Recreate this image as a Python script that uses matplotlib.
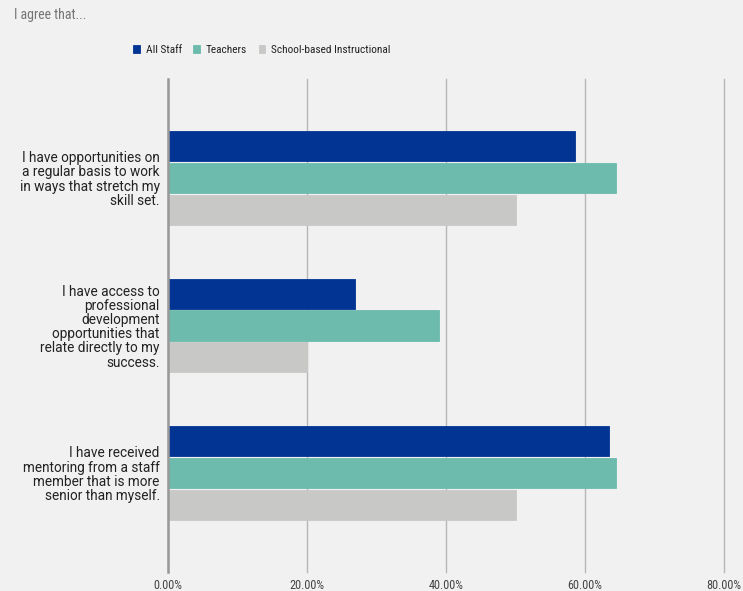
import matplotlib.pyplot as plt
import numpy as np

# data
questions = [
    "I have opportunities on\na regular basis to work\nin ways that stretch my\nskill set.",
    "I have access to\nprofessional\ndevelopment\nopportunities that\nrelate directly to my\nsuccess.",
    "I have received\nmentoring from a staff\nmember that is more\nsenior than myself.",
]
series_names = ["All Staff", "Teachers", "School-based Instructional"]
all_staff = [58.6, 26.9, 63.5]
teachers = [64.5, 39.0, 64.5]
school_based = [50.0, 20.0, 50.0]
xticks = [0, 20, 40, 60, 80]

colors = ["#023593", "#6cbbad", "#c8c8c6"]
bg = "#f1f1f1"
narrow = ["Roboto Condensed", "Liberation Sans Narrow", "Roboto", "DejaVu Sans"]

fig = plt.figure(figsize=(7.43, 5.91), dpi=100, facecolor=bg)
ax = fig.add_axes([168 / 743, 19 / 591, 556 / 743, 493 / 591], facecolor=bg)

y = np.arange(len(questions))
pitch = 0.215
for i, (vals, name) in enumerate(zip([all_staff, teachers, school_based], series_names)):
    ax.barh(y + (i - 1) * pitch, vals, height=pitch - 0.01, color=colors[i],
            edgecolor=colors[i], linewidth=0.6, label=name, zorder=3)

ax.set_xlim(0, 80)
ax.set_ylim(2.67, -0.67)
ax.set_xticks(xticks)
ax.set_xticklabels([f"{v:.2f}%" for v in xticks], family=narrow, fontsize=8.8, color="#444444")
ax.set_yticks(y)
ax.set_yticklabels(questions, family="Roboto", fontsize=9.8, color="#222222",
                   linespacing=1.02)
ax.tick_params(axis="both", length=0)
ax.tick_params(axis="x", pad=5)
ax.tick_params(axis="y", pad=6)

ax.set_axisbelow(True)
ax.grid(axis="x", color="#b7b7b7", linewidth=1.0)
for line in ax.get_xgridlines():
    line.set_clip_on(False)
for s in ["top", "right", "bottom"]:
    ax.spines[s].set_visible(False)
ax.spines["left"].set_color("#999999")
ax.spines["left"].set_linewidth(1.8)
ax.spines["left"].set_zorder(4)

fig.text(14 / 743, 1 - 15 / 591, "I agree that...", family=narrow, fontsize=10,
         color="#757575", ha="left", va="center")

fig.legend(loc="center", bbox_to_anchor=(262 / 743, 1 - 50 / 591), ncol=3, frameon=False,
           prop={"family": narrow, "size": 8.2}, labelcolor="#222222",
           handlelength=0.6, handleheight=0.6, handletextpad=0.5, columnspacing=1.0,
           borderpad=0)

fig.savefig("out.png", dpi=100, facecolor=bg)
